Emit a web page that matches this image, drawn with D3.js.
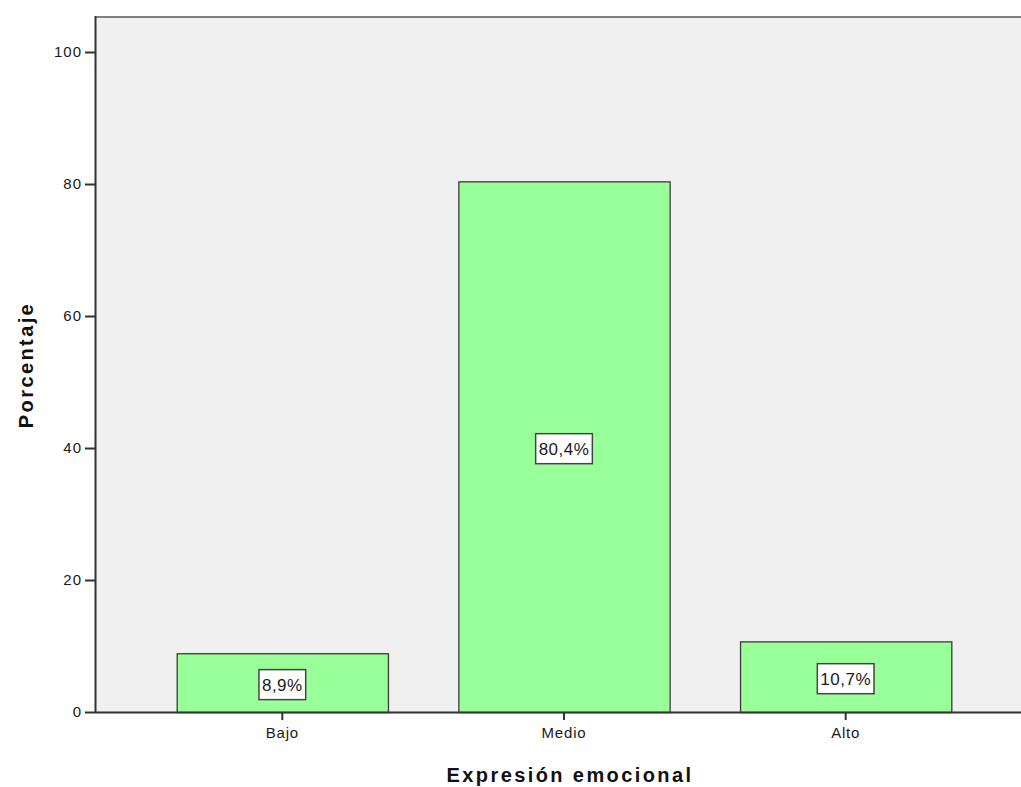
<!DOCTYPE html>
<html>
<head>
<meta charset="utf-8">
<script src="https://cdn.jsdelivr.net/npm/d3@7"></script>
<style>
  html, body { margin: 0; padding: 0; background: #fff; }
  svg { display: block; font-family: "Liberation Sans", Arial, sans-serif; }
</style>
</head>
<body>
<svg id="chart" width="1021" height="787"></svg>
<script>
// Distribución porcentual de la expresión emocional
const categories = ["Bajo", "Medio", "Alto"];
const percentages = [8.9, 80.4, 10.7];
const valueLabels = ["8,9%", "80,4%", "10,7%"];
const yTicks = [0, 20, 40, 60, 80, 100];

const svg = d3.select("#chart");
const W = 1021, H = 787;
const plot = { left: 95, top: 16, bottom: 712, right: 1033 };

const y = d3.scaleLinear().domain([0, 100]).range([plot.bottom, 52]);
const x = d3.scaleBand()
  .domain(categories)
  .range([plot.left, plot.right])
  .paddingInner(0.25)
  .paddingOuter(0.29);

// Plot background
svg.append("rect")
  .attr("x", plot.left).attr("y", plot.top)
  .attr("width", W - plot.left).attr("height", plot.bottom - plot.top)
  .attr("fill", "#f0f0f0");

// Top frame line
svg.append("line")
  .attr("x1", plot.left).attr("x2", W)
  .attr("y1", plot.top + 1).attr("y2", plot.top + 1)
  .attr("stroke", "#808080").attr("stroke-width", 2);

// Bars
svg.append("g").selectAll("rect")
  .data(percentages)
  .join("rect")
  .attr("x", (d, i) => x(categories[i]) + 0.5)
  .attr("y", d => y(d) + 0.5)
  .attr("width", x.bandwidth())
  .attr("height", d => y(0) - y(d))
  .attr("fill", "#99ff99")
  .attr("stroke", "#3a3a3a")
  .attr("stroke-width", 1.3);

// Y axis
const yAxis = svg.append("g")
  .attr("transform", `translate(${plot.left},0)`)
  .call(d3.axisLeft(y).tickValues(yTicks).tickSize(10).tickPadding(3).tickFormat(d3.format("d")));
yAxis.select(".domain").attr("d", `M0.5,${plot.top}V${plot.bottom}`).attr("stroke", "#333").attr("stroke-width", 2);
yAxis.selectAll(".tick line").attr("stroke", "#333").attr("stroke-width", 2);
yAxis.selectAll(".tick text").attr("fill", "#1a1a1a")
  .style("font-size", "15px").style("letter-spacing", "1px");

// X axis
const xAxis = svg.append("g")
  .attr("transform", `translate(0,${plot.bottom})`)
  .call(d3.axisBottom(x).tickSize(8).tickPadding(7));
xAxis.select(".domain").attr("d", `M${plot.left},0.5H${W}`).attr("stroke", "#333").attr("stroke-width", 2);
xAxis.selectAll(".tick line").attr("stroke", "#333").attr("stroke-width", 2);
xAxis.selectAll(".tick text").attr("fill", "#1a1a1a")
  .style("font-size", "15px").style("letter-spacing", "0.8px");

// Value labels in boxes
const lab = svg.append("g").selectAll("g")
  .data(percentages)
  .join("g")
  .attr("transform", (d, i) => `translate(${x(categories[i]) + x.bandwidth() / 2},${y(d / 2) + 2})`);
lab.append("text")
  .attr("text-anchor", "middle")
  .attr("dy", "0.36em")
  .attr("fill", "#1a1a1a")
  .style("font-size", "17px")
  .style("letter-spacing", "0.5px")
  .text((d, i) => valueLabels[i]);
lab.each(function () {
  const g = d3.select(this);
  const bb = g.select("text").node().getBBox();
  g.insert("rect", "text")
    .attr("x", bb.x - 3).attr("y", -15)
    .attr("width", bb.width + 6).attr("height", 30)
    .attr("fill", "#fff")
    .attr("stroke", "#444")
    .attr("stroke-width", 1.5);
});

// Axis titles
svg.append("text")
  .attr("transform", `translate(33,365) rotate(-90)`)
  .attr("text-anchor", "middle")
  .attr("fill", "#111")
  .style("font-size", "20px").style("font-weight", "bold")
  .style("letter-spacing", "2.4px")
  .text("Porcentaje");

svg.append("text")
  .attr("x", 570).attr("y", 782)
  .attr("text-anchor", "middle")
  .attr("fill", "#111")
  .style("font-size", "20px").style("font-weight", "bold")
  .style("letter-spacing", "2.4px")
  .text("Expresión emocional");
</script>
</body>
</html>
